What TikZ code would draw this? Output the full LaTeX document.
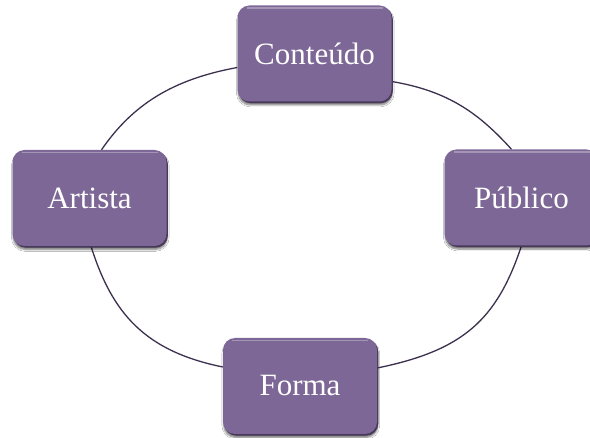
\documentclass[tikz,border=0pt]{standalone}
\usepackage{fontspec}
\setmainfont{Liberation Serif}
\usetikzlibrary{calc,shadows,shadows.blur,backgrounds}
\definecolor{boxc}{RGB}{125,103,150}
\definecolor{boxrim}{RGB}{72,56,90}
\definecolor{arcc}{RGB}{60,48,78}
\begin{document}
\begin{tikzpicture}[x=1pt,y=-1pt,
  stagebox/.style={rectangle, rounded corners=12pt, minimum width=154pt,
    minimum height=96pt, fill=boxc, text=white, inner sep=0pt,
    font=\fontsize{31}{36}\selectfont,
    blur shadow={shadow xshift=0.8pt, shadow yshift=-3.5pt, shadow blur steps=6, shadow opacity=55},
    general shadow={fill=boxrim, shadow xshift=1.3pt, shadow yshift=-1.6pt},
    path picture={\draw[white, opacity=0.3, line width=1.2pt]
      ([xshift=9pt,yshift=-2.5pt]path picture bounding box.north west) --
      ([xshift=-9pt,yshift=-2.5pt]path picture bounding box.north east);}},
  ring/.style={draw=arcc, line width=1.3pt}]
\useasboundingbox (0,0) rectangle (590,438);
\node[stagebox] (cont) at (314.5,53.5) {Conteúdo};
\node[stagebox] (art) at (89.5,198) {Artista};
\node[stagebox] (pub) at (521.5,197.5) {Público};
\node[stagebox] (forma) at (300,386) {Forma};
\begin{pgfonlayer}{background}
\fill[white] (0,0) rectangle (590,438);
\draw[ring] ($(art.north)+(12,0)$) .. controls +(31.2,-45.3) and +(-64.7,11.9) .. ($(cont.west)+(0,14)$);
\draw[ring] ($(cont.east)+(0,28)$) .. controls +(57.2,9.6) and +(-32.2,-35.5) .. ($(pub.north)+(-10,0)$);
\draw[ring] ($(pub.south)+(0,0)$) .. controls +(-24.6,74) and +(86.2,-17.6) .. ($(forma.east)+(0,-18)$);
\draw[ring] ($(art.south)+(1.5,0)$) .. controls +(21,66.8) and +(-78.4,-16) .. ($(forma.west)+(0,-19)$);
\end{pgfonlayer}
\end{tikzpicture}
\end{document}
